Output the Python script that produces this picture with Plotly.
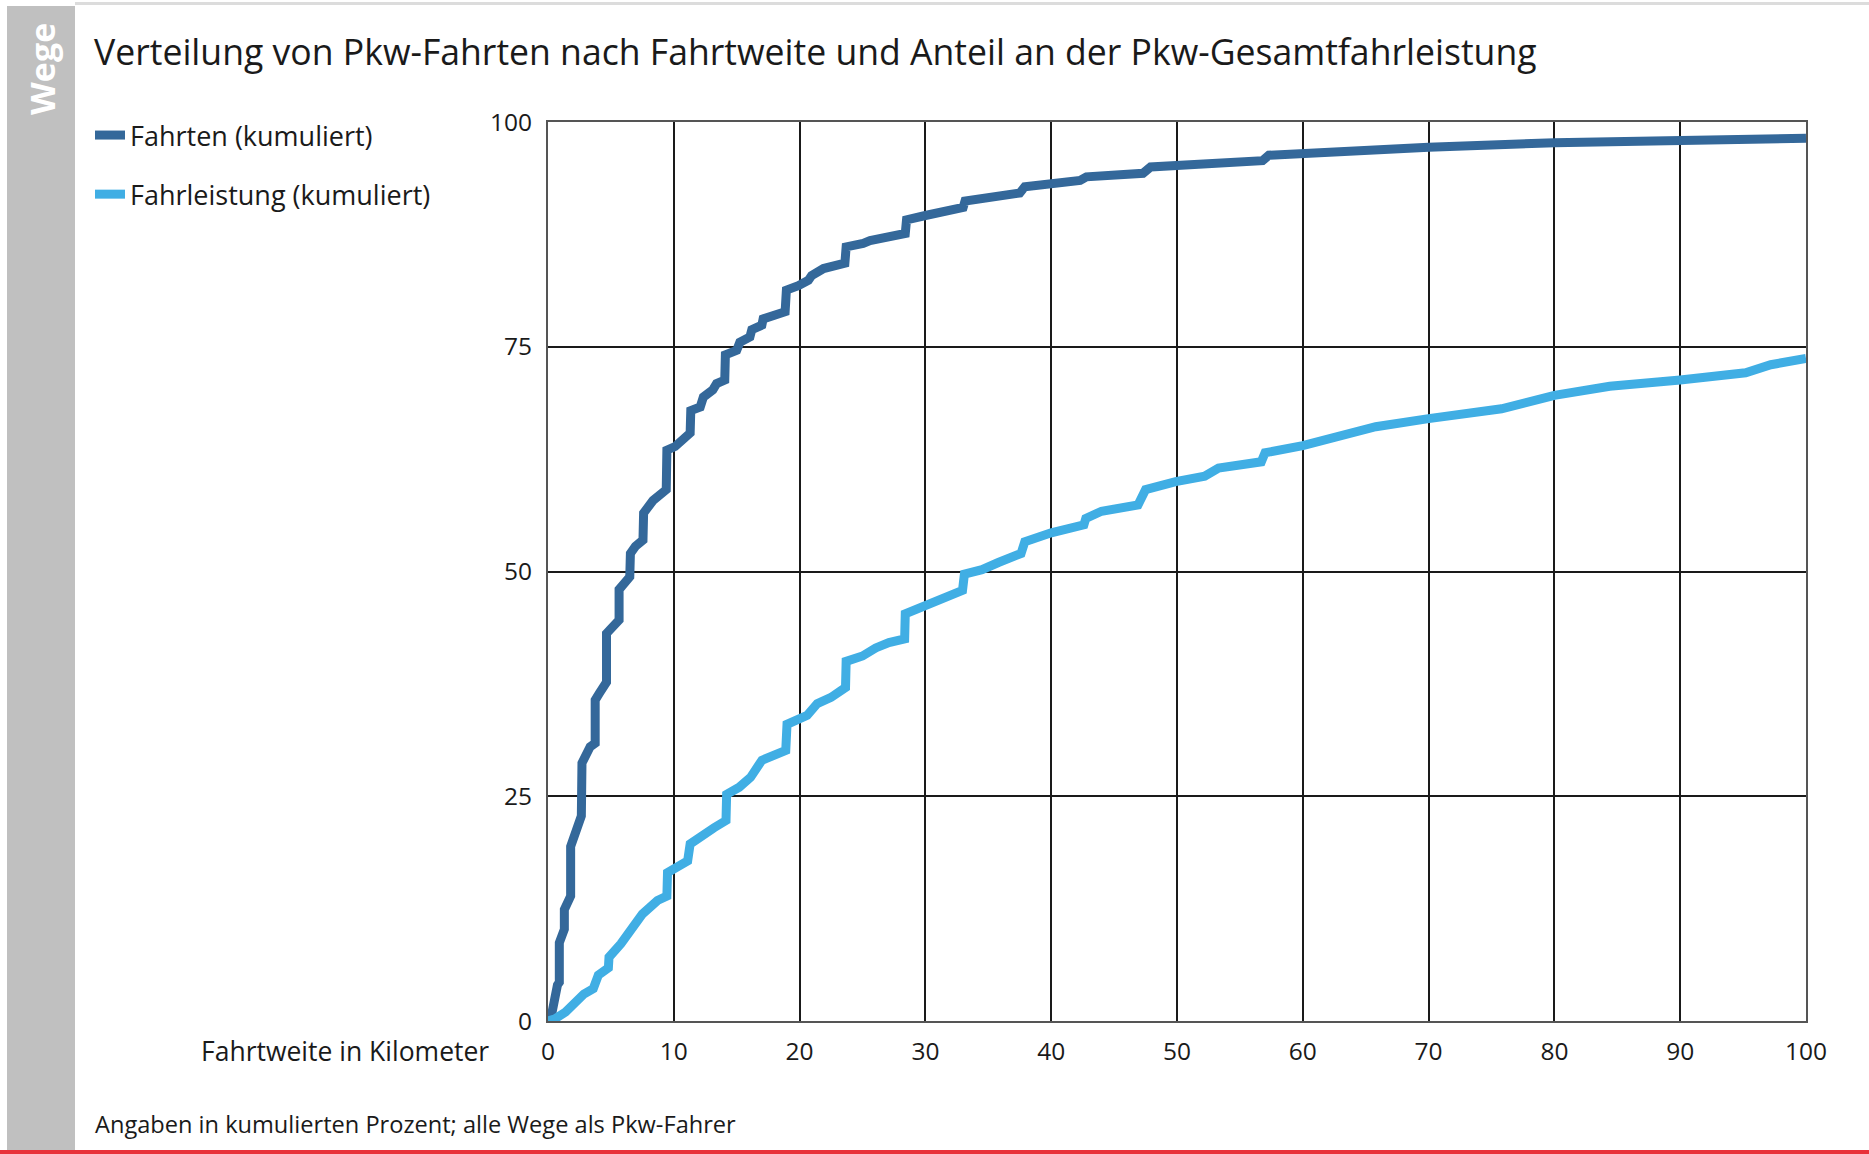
import plotly.graph_objects as go

# ---- data ----
fahrten_km = [0, 0.3, 0.75, 0.9, 0.9, 1.1, 1.3, 1.3, 1.75, 1.8, 1.8, 2.1, 2.4, 2.65, 2.7, 3.05, 3.35, 3.75,
              3.75, 4.1, 4.55, 4.65, 4.65, 5.1, 5.5, 5.65, 5.65, 6.1, 6.5, 6.55, 6.95, 7.55, 7.6, 8.35, 9.4,
              9.45, 10.1, 11.3, 11.35, 12.1, 12.35, 13.1, 13.4, 14.05, 14.1, 15.0, 15.25, 16.05, 16.2, 17.0,
              17.1, 18.85, 18.95, 19.9, 20.7, 20.95, 21.8, 21.9, 23.6, 23.7, 25.05, 25.6, 28.4, 28.5, 30.0,
              33.0, 33.15, 34.6, 37.5, 37.9, 39.9, 42.3, 42.8, 45.5, 47.3, 47.9, 52.1, 53.1, 56.8, 57.3, 60,
              70, 80, 90, 100]
fahrten_pct = [0, 0.8, 4.0, 4.3, 8.7, 9.4, 10.2, 12.4, 13.5, 13.9, 19.4, 20.5, 21.6, 22.8, 28.7, 29.8, 30.5, 30.9,
               35.7, 36.5, 37.4, 37.7, 43.1, 43.8, 44.4, 44.6, 48.0, 48.8, 49.4, 52.0, 52.8, 53.5, 56.5, 57.9, 59.1,
               63.5, 63.9, 65.4, 67.9, 68.3, 69.4, 70.2, 70.9, 71.3, 74.1, 74.6, 75.5, 76.1, 76.9, 77.4,
               78.1, 78.9, 81.3, 81.8, 82.4, 82.9, 83.5, 83.7, 84.3, 86.1, 86.5, 86.8, 87.6, 89.1, 89.6,
               90.5, 91.2, 91.5, 92.1, 92.8, 93.2, 93.5, 93.9, 94.2, 94.3, 95.0, 95.3, 95.6, 95.7, 96.3, 96.5,
               97.2, 97.7, 97.9, 98.2]

leistung_km = [0, 0.5, 1.4, 2.05, 2.85, 3.6, 4.0, 4.8, 4.85, 5.8, 6.55, 7.5, 8.7, 9.45, 9.5, 10.3, 11.1, 11.3,
               12.3, 13.2, 14.15, 14.2, 15.2, 16.1, 17.0, 18.9, 19.0, 20.6, 21.4, 22.5, 23.65, 23.7, 25.0, 26.05,
               27.1, 28.35, 28.4, 30.0, 32.95, 33.1, 34.5, 35.8, 37.6, 37.9, 40, 42.6, 42.75, 44.0, 46.9, 47.5,
               49.9, 52.2, 53.3, 56.7, 57.0, 60, 63, 65.8, 70, 75.8, 80, 84.4, 90, 95.2, 97.2, 100]
leistung_pct = [0, 0.2, 1.0, 1.9, 3.0, 3.6, 5.1, 5.9, 7.1, 8.6, 10.1, 11.9, 13.4, 13.9, 16.5, 17.1, 17.8, 19.7,
                20.5, 21.5, 22.3, 25.2, 26.0, 27.1, 29.0, 30.1, 33.0, 34.0, 35.3, 36.0, 37.1, 40.0, 40.6, 41.5,
                42.1, 42.5, 45.3, 46.2, 47.9, 49.7, 50.2, 51.0, 52.0, 53.3, 54.3, 55.2, 55.9, 56.7, 57.4, 59.1,
                60.0, 60.6, 61.5, 62.2, 63.2, 64.0, 65.0, 66.1, 67.0, 68.1, 69.6, 70.6, 71.3, 72.1, 73.0, 73.7]

series_names = ["Fahrten (kumuliert)", "Fahrleistung (kumuliert)"]
series_colors = ["#34689a", "#40aee4"]
x_ticks = [0, 10, 20, 30, 40, 50, 60, 70, 80, 90, 100]
y_ticks = [0, 25, 50, 75, 100]

title_text = "Verteilung von Pkw-Fahrten nach Fahrtweite und Anteil an der Pkw-Gesamtfahrleistung"
x_label = "Fahrtweite in Kilometer"
note_text = "Angaben in kumulierten Prozent; alle Wege als Pkw-Fahrer"
side_text = "Wege"

# ---- layout geometry (pixels) ----
W, H = 1869, 1154
L, R, T, B = 548, 1806, 122, 1021
PW, PH = R - L, B - T


def xp(px):
    return (px - L) / PW


def yp(py):
    return (B - py) / PH


FONT = "Open Sans"

fig = go.Figure()
for i, (xs, ys) in enumerate([(fahrten_km, fahrten_pct), (leistung_km, leistung_pct)]):
    fig.add_trace(go.Scatter(
        x=xs, y=ys, mode="lines", name=series_names[i],
        line=dict(color=series_colors[i], width=9),
        legendgroup=f"g{i}", hoverinfo="x+y",
    ))

fig.update_layout(
    width=W, height=H,
    margin=dict(l=L, r=W - R, t=T, b=H - B, pad=0),
    paper_bgcolor="white", plot_bgcolor="white",
    font=dict(family=FONT, size=24, color="#1a1a1a"),
    showlegend=True,
    legend=dict(
        x=xp(90), y=yp(111), xanchor="left", yanchor="top",
        bgcolor="rgba(0,0,0,0)", font=dict(size=27, color="#1a1a1a"),
        traceorder="grouped", tracegroupgap=21, itemwidth=30,
    ),
    xaxis=dict(
        range=[0, 100], tickvals=x_ticks, ticktext=[str(v) for v in x_ticks],
        showgrid=True, gridcolor="#1a1a1a", gridwidth=1.5,
        showline=True, linecolor="#555555", linewidth=2, mirror=True,
        zeroline=False, ticks="", ticklabelstandoff=8,
        tickfont=dict(size=24.5, color="#1a1a1a"),
    ),
    yaxis=dict(
        range=[0, 100], tickvals=y_ticks, ticktext=[str(v) for v in y_ticks],
        showgrid=True, gridcolor="#1a1a1a", gridwidth=1.5,
        showline=True, linecolor="#555555", linewidth=2, mirror=True,
        zeroline=False, ticks="", ticklabelstandoff=9,
        tickfont=dict(size=24.5, color="#1a1a1a"),
    ),
)

# decorative frame: gray sidebar, top rule, red bottom rule
fig.add_shape(type="rect", xref="paper", yref="paper",
              x0=xp(7), x1=xp(75), y0=yp(1150), y1=yp(6),
              fillcolor="#c0c0c0", line=dict(width=0), layer="below")
fig.add_shape(type="rect", xref="paper", yref="paper",
              x0=xp(75), x1=xp(W), y0=yp(5), y1=yp(2),
              fillcolor="#dcdcdc", line=dict(width=0), layer="below")
fig.add_shape(type="rect", xref="paper", yref="paper",
              x0=xp(0), x1=xp(W), y0=yp(H), y1=yp(1150),
              fillcolor="#e8323a", line=dict(width=0), layer="below")

fig.add_annotation(text=f"<b>{side_text}</b>", xref="paper", yref="paper",
                   x=xp(42), y=yp(69), xanchor="center", yanchor="middle",
                   textangle=-90, showarrow=False,
                   font=dict(family=FONT, size=34, color="white"))
fig.add_annotation(text=title_text, xref="paper", yref="paper",
                   x=xp(92), y=yp(51), xanchor="left", yanchor="middle",
                   showarrow=False, font=dict(family=FONT, size=35.6, color="#1a1a1a"))
fig.add_annotation(text=x_label, xref="paper", yref="paper",
                   x=xp(491), y=yp(1051), xanchor="right", yanchor="middle",
                   showarrow=False, font=dict(family=FONT, size=26.5, color="#1a1a1a"))
fig.add_annotation(text=note_text, xref="paper", yref="paper",
                   x=xp(93), y=yp(1124), xanchor="left", yanchor="middle",
                   showarrow=False, font=dict(family=FONT, size=23.6, color="#1a1a1a"))

fig.write_html(
    "out.html",
    config={"displayModeBar": False},
    post_script="document.body.style.margin='0';document.body.style.overflow='hidden';",
)
